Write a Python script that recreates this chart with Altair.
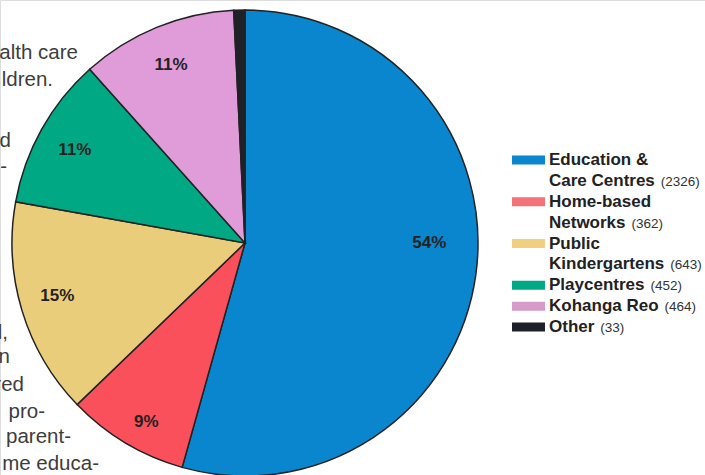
import altair as alt
import pandas as pd

# ---------------- data ----------------
categories = ["Education & Care Centres", "Home-based Networks", "Public Kindergartens",
              "Playcentres", "Kohanga Reo", "Other"]
counts = [2326, 362, 643, 452, 464, 33]
pct_labels = ["54%", "9%", "15%", "11%", "11%", ""]
legend_first = ["Education &", "Home-based", "Public", "Playcentres", "Kohanga Reo", "Other"]
legend_second = ["Care Centres", "Networks", "Kindergartens", "", "", ""]
body_text = ["alth  care", "ldren.", "d", "-", "l,", "n", "red", "pro-", "parent-", "me educa-"]

# ---------------- styles ----------------
slice_colors = ["#0A86CE", "#FA505B", "#EACD7B", "#00A884", "#E09BD9", "#1E2127"]
swatch_colors = ["#0A86CE", "#F47177", "#F0D080", "#00A884", "#D59BC9", "#1E2127"]
FONT = "Liberation Sans"
LEG_SIZE = 17
CX, CY, R = 245, 243, 233
LEG_X, SW_X0, SW_X1 = 549, 512, 545
# layout of the wrapped body text behind the chart (right edge, baseline)
body_pos = [(78, 59), (53, 86), (11, 147), (7, 173), (8, 339), (10, 363),
            (24, 391), (45, 418), (71, 443), (99, 470)]

# Arial/Liberation Sans Bold advance widths (per 1000 em)
_bw = {' ': 278, '&': 722, '-': 333, 'A': 722, 'B': 722, 'C': 722, 'D': 722, 'E': 667, 'F': 611,
       'G': 778, 'H': 722, 'I': 278, 'K': 722, 'L': 611, 'N': 722, 'O': 778, 'P': 667, 'R': 722,
       'S': 667, 'T': 611, 'a': 556, 'b': 611, 'c': 556, 'd': 611, 'e': 556, 'f': 333, 'g': 611,
       'h': 611, 'i': 278, 'j': 278, 'k': 556, 'l': 278, 'm': 889, 'n': 611, 'o': 611, 'p': 611,
       'q': 611, 'r': 389, 's': 556, 't': 333, 'u': 611, 'v': 556, 'w': 778, 'x': 556, 'y': 556,
       'z': 500}


def bold_width(t, size):
    return sum(_bw.get(ch, 600) for ch in t) * size / 1000.0


pie_df = pd.DataFrame({"cat": categories, "count": counts, "idx": list(range(len(counts))),
                       "label": pct_labels})

leg_rows, sw_rows = [], []
line = 0
for i in range(len(categories)):
    lines = [legend_first[i]] + ([legend_second[i]] if legend_second[i] else [])
    sw_rows.append({"line": line, "col": swatch_colors[i]})
    for j, t in enumerate(lines):
        last = j == len(lines) - 1
        leg_rows.append({"line": line, "text": t,
                         "cnt": f"({counts[i]})" if last else "",
                         "cx": LEG_X + bold_width(t, LEG_SIZE) + 6})
        line += 1
leg_df = pd.DataFrame(leg_rows)
sw_df = pd.DataFrame(sw_rows)
n_lines = line

body_df = pd.DataFrame({"t": body_text, "x": [p[0] for p in body_pos], "y": [p[1] for p in body_pos]})

# ---------------- chart ----------------
color_scale = alt.Scale(domain=categories, range=slice_colors)

body = alt.Chart(body_df).mark_text(align="right", baseline="alphabetic", font=FONT,
                                      fontSize=20.5, color="#3d3d3d").encode(
    x=alt.X("x:Q", scale=None), y=alt.Y("y:Q", scale=None), text="t:N")

pie = alt.Chart(pie_df).mark_arc(radius=R, stroke="#222222", strokeWidth=1.5).encode(
    theta=alt.Theta("count:Q", stack=True),
    color=alt.Color("cat:N", scale=color_scale, legend=None),
    order=alt.Order("idx:Q"),
    x=alt.value(CX), y=alt.value(CY))


def pct_layer(cond, radius, dx=0, dy=0):
    return alt.Chart(pie_df).mark_text(
        radius=radius, dx=dx, dy=dy, font=FONT, fontSize=17, fontWeight="bold",
        color="#222222").encode(
        theta=alt.Theta("count:Q", stack=True),
        order=alt.Order("idx:Q"),
        text=alt.condition(cond, alt.Text("label:N"), alt.value("")),
        x=alt.value(CX), y=alt.value(CY))


labels_main = pct_layer("datum.idx == 0", 190, dx=-4, dy=-26)
labels_red = pct_layer("datum.idx == 1", 208, dx=8)
labels_yel = pct_layer("datum.idx == 2", 195, dx=-1, dy=-4)
labels_rest = pct_layer("datum.idx > 2", 195, dx=0, dy=2)

yscale = alt.Scale(domain=[0, n_lines - 1], range=[160, 327])

swatches = alt.Chart(sw_df).mark_rule(strokeWidth=9, strokeCap="butt").encode(
    x=alt.value(SW_X0), x2=alt.value(SW_X1),
    y=alt.Y("line:Q", scale=yscale, axis=None),
    color=alt.Color("col:N", scale=None))

leg_text = alt.Chart(leg_df).mark_text(align="left", baseline="middle", font=FONT,
                                         fontSize=LEG_SIZE, fontWeight="bold", color="#222222").encode(
    x=alt.value(LEG_X), y=alt.Y("line:Q", scale=yscale, axis=None), text="text:N")

leg_cnt = alt.Chart(leg_df).mark_text(align="left", baseline="middle", font=FONT,
                                        fontSize=13.5, color="#333333", dy=1).encode(
    x=alt.X("cx:Q", scale=None), y=alt.Y("line:Q", scale=yscale, axis=None), text="cnt:N")

chart = alt.layer(body, pie, labels_main, labels_red, labels_yel, labels_rest,
                  swatches, leg_text, leg_cnt).properties(
    width=705, height=475, autosize=alt.AutoSizeParams(type="none"), padding=0
).configure_view(stroke=None).configure(background="white")

chart.save("out.html", embed_options={"renderer": "svg", "actions": False})
